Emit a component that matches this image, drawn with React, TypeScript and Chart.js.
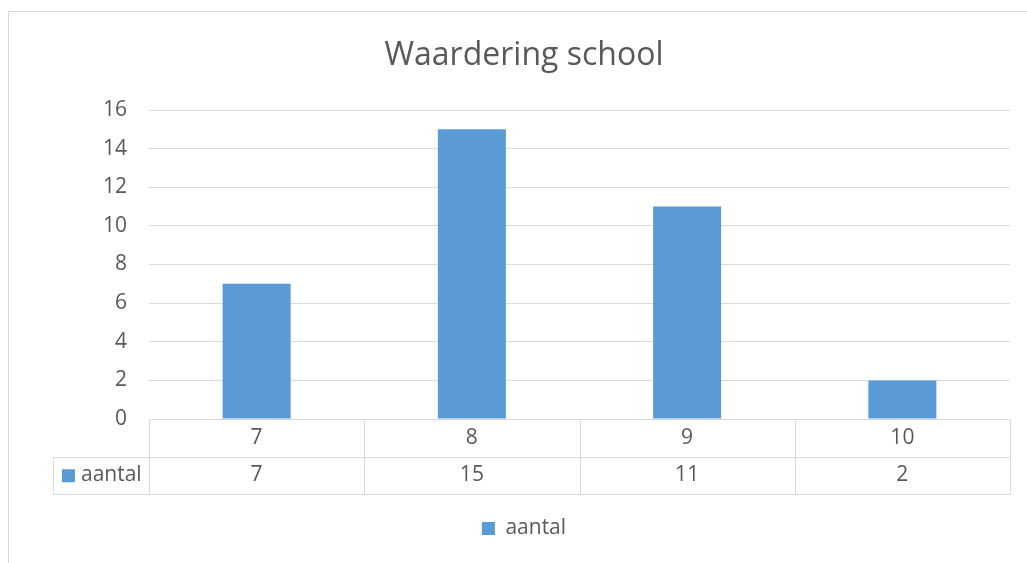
import React, { useEffect, useRef } from "react";
import { Chart, registerables } from "chart.js";

Chart.register(...registerables);

const categories = ["7", "8", "9", "10"];
const seriesName = "aantal";
const aantal = [7, 15, 11, 2];
const titleText = "Waardering school";
const yMin = 0;
const yMax = 16;
const yStep = 2;

const FONT = "'Open Sans', 'Noto Sans', sans-serif";
const TEXT = "#595959";
const GRID = "#D9D9D9";
const BAR = "#5B9BD5";

const tablePlugin = {
  id: "dataTable",
  beforeDraw(chart: any) {
    const ctx = chart.ctx;
    ctx.save();
    ctx.strokeStyle = GRID;
    ctx.lineWidth = 1;
    ctx.strokeRect(8.5, 11.5, chart.width + 20, chart.height + 20);
    ctx.restore();
  },
  afterDraw(chart: any) {
    const ctx = chart.ctx;
    const x = chart.scales.x;
    const area = chart.chartArea;
    const top = area.bottom;
    const rowH = 37.5;
    const headerW = 96;
    const n = categories.length;
    const half = (x.getPixelForValue(1) - x.getPixelForValue(0)) / 2;
    const left = x.getPixelForValue(0) - half;
    const right = x.getPixelForValue(n - 1) + half;
    ctx.save();
    ctx.strokeStyle = GRID;
    ctx.lineWidth = 1;
    ctx.beginPath();
    ctx.moveTo(left, Math.round(top) + 0.5);
    ctx.lineTo(right, Math.round(top) + 0.5);
    ctx.moveTo(left - headerW, Math.round(top + rowH) + 0.5);
    ctx.lineTo(right, Math.round(top + rowH) + 0.5);
    ctx.moveTo(left - headerW, Math.round(top + 2 * rowH) + 0.5);
    ctx.lineTo(right, Math.round(top + 2 * rowH) + 0.5);
    ctx.moveTo(Math.round(left - headerW) + 0.5, Math.round(top + rowH));
    ctx.lineTo(Math.round(left - headerW) + 0.5, Math.round(top + 2 * rowH) + 1);
    for (let i = 0; i <= n; i++) {
      const px = Math.round(x.getPixelForValue(i) - half) + 0.5;
      ctx.moveTo(px, Math.round(top));
      ctx.lineTo(px, Math.round(top + 2 * rowH) + 1);
    }
    ctx.stroke();

    ctx.fillStyle = TEXT;
    ctx.font = `21px ${FONT}`;
    ctx.textAlign = "center";
    ctx.textBaseline = "middle";
    for (let i = 0; i < n; i++) {
      const cx = x.getPixelForValue(i);
      ctx.fillText(categories[i], cx, top + rowH / 2);
      ctx.fillText(String(aantal[i]), cx, top + rowH * 1.5);
    }
    const hx = left - headerW;
    ctx.fillStyle = BAR;
    ctx.fillRect(hx + 9, top + rowH * 1.5 - 6, 13, 13);
    ctx.fillStyle = TEXT;
    ctx.textAlign = "left";
    ctx.fillText(seriesName, hx + 28, top + rowH * 1.5);
    ctx.restore();
  },
};

export default function App() {
  const ref = useRef<HTMLCanvasElement | null>(null);
  useEffect(() => {
    if (!ref.current) return;
    const chart = new Chart(ref.current, {
      type: "bar",
      data: {
        labels: categories,
        datasets: [
          {
            label: seriesName,
            data: aantal,
            backgroundColor: BAR,
            borderWidth: 0,
            barPercentage: 0.316,
            categoryPercentage: 1,
          },
        ],
      },
      plugins: [tablePlugin],
      options: {
        animation: false,
        responsive: false,
        maintainAspectRatio: false,
        layout: { padding: { top: 11, left: 38, right: 17, bottom: 14 } },
        plugins: {
          title: {
            display: true,
            text: titleText,
            color: TEXT,
            font: { family: FONT, size: 32, weight: "normal" },
            padding: { top: 26, bottom: 34.6 },
          },
          legend: {
            display: true,
            position: "bottom",
            labels: {
              color: TEXT,
              font: { family: FONT, size: 21 },
              boxWidth: 13,
              boxHeight: 13,
              padding: 10,
            },
          },
          tooltip: { enabled: false },
        },
        scales: {
          x: {
            ticks: { display: false },
            grid: { display: false },
            border: { display: false },
            afterFit: (s: any) => {
              s.height = 89;
            },
          },
          y: {
            min: yMin,
            max: yMax,
            ticks: {
              stepSize: yStep,
              color: TEXT,
              font: { family: FONT, size: 21 },
              padding: 22,
            },
            grid: { color: GRID, drawTicks: false },
            border: { display: false },
            afterFit: (s: any) => {
              s.width = 111;
            },
          },
        },
      },
    });
    return () => chart.destroy();
  }, []);
  return (
    <div style={{ position: "fixed", left: 0, top: 0, width: 1027, height: 563, overflow: "hidden", background: "#fff" }}>
      <canvas ref={ref} width={1027} height={563} style={{ display: "block", width: 1027, height: 563 }} />
    </div>
  );
}
